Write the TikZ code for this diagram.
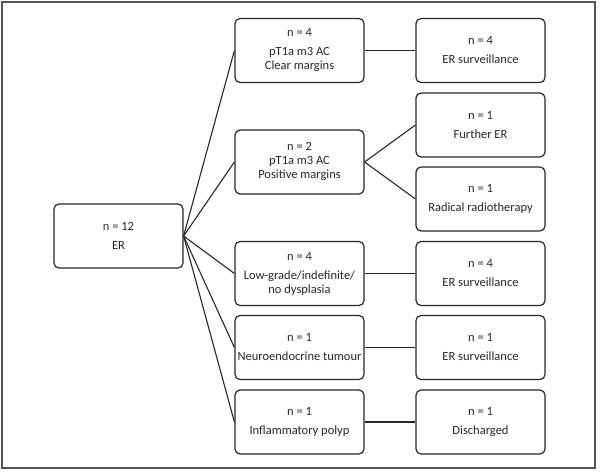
\documentclass[tikz,border=0pt]{standalone}
\usepackage{fontspec}
\setmainfont{Carlito}
\definecolor{inkgrey}{RGB}{40,40,40}
\tikzset{every picture/.style={line width=1pt}}
\tikzset{
  outcome/.style={draw=inkgrey, line width=1.2pt, rounded corners=5pt,
    minimum width=129pt, minimum height=64pt, align=center, inner sep=1pt,
    text=inkgrey, font=\fontsize{12.5}{14}\selectfont},
  link/.style={draw=inkgrey, line width=1.1pt}
}

\begin{document}
\begin{tikzpicture}[x=1pt,y=1pt,yscale=-1,xscale=1]
		\useasboundingbox (0,0) rectangle (601,471);
		
		%Frame
		\draw [draw={rgb, 255:red, 85; green, 85; blue, 85 }, line width=2.2pt] (2,2) rectangle (595,468);
		
		%Start box
		\node [outcome] (er) at (118.5,236) {n = 12\\[5pt]ER};
		
		%Histology boxes
		\node [outcome] (clear) at (299.5,50.5) {n = 4\\[5pt]pT1a m3 AC\\Clear margins};
		\node [outcome] (positive) at (299.5,162) {n = 2\\[0pt]pT1a m3 AC\\Positive margins};
		\node [outcome] (lowgrade) at (299.5,273.5) {n = 4\\[5pt]Low-grade/indefinite/\\no dysplasia};
		\node [outcome] (neuro) at (299.5,347.5) {n = 1\\[5pt]Neuroendocrine tumour};
		\node [outcome] (polyp) at (299.5,422) {n = 1\\[5pt]Inflammatory polyp};
		
		%Management boxes
		\node [outcome] (survA) at (480.5,50.5) {n = 4\\[5pt]ER surveillance};
		\node [outcome] (further) at (480.5,125) {n = 1\\[5pt]Further ER};
		\node [outcome] (radio) at (480.5,199) {n = 1\\[5pt]Radical radiotherapy};
		\node [outcome] (survB) at (480.5,273.5) {n = 4\\[5pt]ER surveillance};
		\node [outcome] (survC) at (480.5,347.5) {n = 1\\[5pt]ER surveillance};
		\node [outcome] (discharged) at (480.5,422) {n = 1\\[5pt]Discharged};
		
		%Connectors from ER
		\draw [link] (er.east) -- (clear.west);
		\draw [link] (er.east) -- (positive.west);
		\draw [link] (er.east) -- (lowgrade.west);
		\draw [link] (er.east) -- (neuro.west);
		\draw [link] (er.east) -- (polyp.west);
		
		%Connectors to management
		\draw [link] (clear.east) -- (survA.west);
		\draw [link] (positive.east) -- (further.west);
		\draw [link] (positive.east) -- (radio.west);
		\draw [link] (lowgrade.east) -- (survB.west);
		\draw [link] (neuro.east) -- (survC.west);
		\draw [link] (polyp.east) -- (discharged.west);
		
\end{tikzpicture}
\end{document}
